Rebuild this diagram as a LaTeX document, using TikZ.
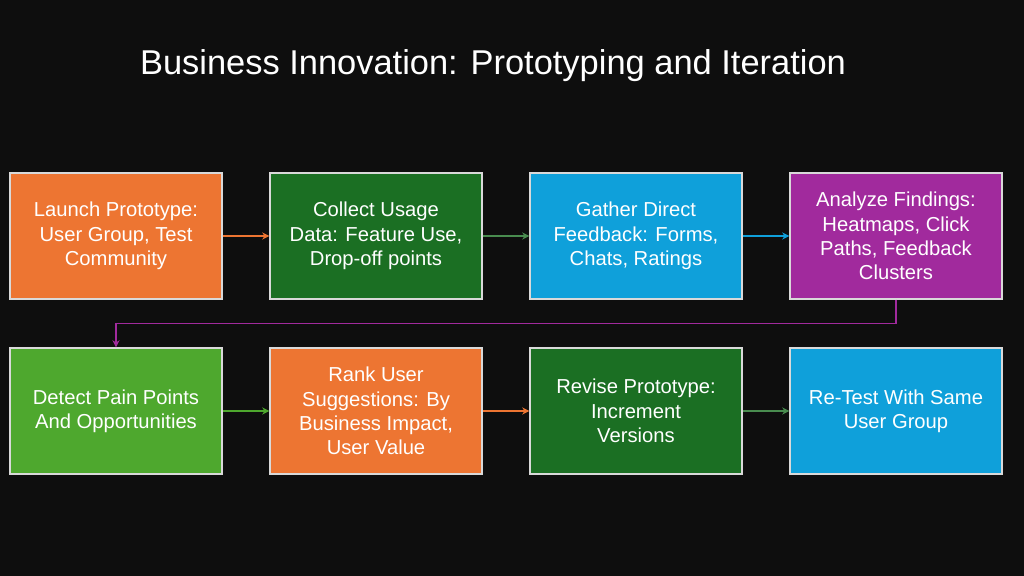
\documentclass[tikz,border=0pt]{standalone}
\usepackage{fontspec}
\setmainfont{Liberation Sans}
\usetikzlibrary{arrows.meta,positioning}
\definecolor{bg}{HTML}{0E0E0E}
\definecolor{orng}{HTML}{ED7532}
\definecolor{dgreen}{HTML}{1B6F23}
\definecolor{sky}{HTML}{0FA0DA}
\definecolor{purp}{HTML}{A12A9D}
\definecolor{lgreen}{HTML}{4EA82E}
\begin{document}
\begin{tikzpicture}
[>={Stealth[length=4pt,width=4pt]},
  step box/.style={draw=white!85!black,line width=0.8pt,minimum width=4.24cm,minimum height=2.52cm,
    align=center,text=white,font=\fontsize{11.5}{13.9}\selectfont},
  link/.style={->,line width=0.6pt}]

  \fill[bg] (0,0) rectangle (20.48,11.52);
  \node[text=white,font=\fontsize{19.6}{23}\selectfont] (title) at (9.86,10.2) {Business Innovation: Prototyping and Iteration};

  \node [step box,fill=orng] (launch) at (2.32,6.8) {Launch Prototype:\\User Group, Test\\Community};
  \node [step box,fill=dgreen] (collect) at (7.52,6.8) {Collect Usage\\Data: Feature Use,\\Drop-off points};
  \node [step box,fill=sky] (gather) at (12.72,6.8) {Gather Direct\\Feedback: Forms,\\Chats, Ratings};
  \node [step box,fill=purp] (analyze) at (17.92,6.8) {Analyze Findings:\\Heatmaps, Click\\Paths, Feedback\\Clusters};

  \node [step box,fill=lgreen] (detect) at (2.32,3.3) {Detect Pain Points\\And Opportunities};
  \node [step box,fill=orng] (rank) at (7.52,3.3) {Rank User\\Suggestions: By\\Business Impact,\\User Value};
  \node [step box,fill=dgreen] (revise) at (12.72,3.3) {Revise Prototype:\\Increment\\Versions};
  \node [step box,fill=sky] (retest) at (17.92,3.3) {Re-Test With Same\\User Group};

  \foreach \from/\to/\col in {launch/collect/orng,collect/gather/dgreen!80!white,gather/analyze/sky,
      detect/rank/lgreen,rank/revise/orng,revise/retest/dgreen!80!white}
    \draw[link,\col] (\from) -- (\to);

  \draw[link,purp] (analyze.south) -- ++(0,-0.48) -| (detect.north);

\end{tikzpicture}
\end{document}
